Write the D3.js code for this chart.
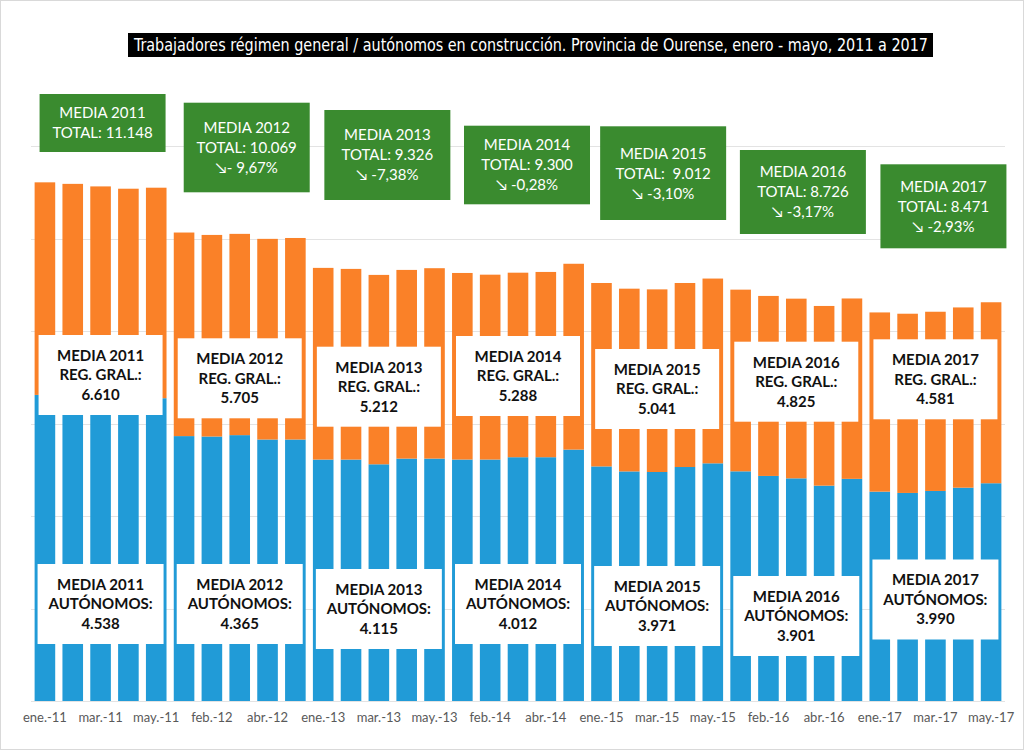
<!DOCTYPE html>
<html>
<head>
<meta charset="utf-8">
<script src="https://cdn.jsdelivr.net/npm/d3@7"></script>
<style>
  body { margin: 0; background: #fff; }
  svg { display: block; }
</style>
</head>
<body>
<svg id="chart" width="1024" height="750"></svg>
<script>
// datos: trabajadores por mes, enero - mayo de cada año
const years = [2011, 2012, 2013, 2014, 2015, 2016, 2017];
const months = ['ene.', 'feb.', 'mar.', 'abr.', 'may.'];

const regGeneral = [
  6623, 6630, 6640, 6605, 6552,
  5732, 5723, 5753, 5658, 5658,
  5224, 5224, 5122, 5245, 5245,
  5225, 5225, 5275, 5275, 5440,
  5076, 4968, 4955, 5063, 5143,
  4970, 4870, 4818, 4660, 4807,
  4530, 4502, 4545, 4616, 4712
];
const autonomos = [
  4600, 4560, 4495, 4480, 4555,
  4405, 4362, 4355, 4342, 4361,
  4148, 4126, 4098, 4083, 4120,
  4037, 4000, 3993, 4009, 4021,
  3969, 3954, 3952, 3982, 3998,
  3931, 3895, 3888, 3888, 3903,
  3878, 3878, 3878, 3900, 3916
];

// textos de las medias (tal como aparecen)
const mediaTotal = ['11.148', '10.069', '9.326', '9.300', ' 9.012', '8.726', '8.471'];
const variacion = [null, '\u2198- 9,67%', '\u2198 -7,38%', '\u2198 -0,28%', '\u2198 -3,10%', '\u2198 -3,17%', '\u2198 -2,93%'];
const mediaReg = ['6.610', '5.705', '5.212', '5.288', '5.041', '4.825', '4.581'];
const mediaAut = ['4.538', '4.365', '4.115', '4.012', '3.971', '3.901', '3.990'];

const categories = years.flatMap(y => months.map(m => m + '-' + String(y).slice(2)));
const rows = categories.map((c, i) => ({ cat: c, reg: regGeneral[i], aut: autonomos[i] }));

// colocacion de los cuadros de texto
const greenBoxes = [[94, 152], [102.7, 192.3], [110, 200], [125.7, 204.3], [126.3, 220], [150, 234], [164.3, 248.3]];
const greenDx = [2, 7, 8.5, 9, 6, 6.6, 8];
const regTops = [335, 338.3, 346.7, 336, 349, 341.7, 339.3];
const autTops = [564, 564, 569, 564, 566, 576, 559.5];

const blue = '#219bd7', orange = '#fa8128', green = '#3a8b2f';

const svg = d3.select('#chart');

svg.append('rect')
  .attr('x', 0.5).attr('y', 0.5).attr('width', 1023).attr('height', 749)
  .attr('fill', '#fff').attr('stroke', '#d9d9d9');

const x = d3.scaleBand()
  .domain(categories)
  .range([31, 1005])
  .paddingInner(0.26)
  .paddingOuter(0.13);

const y = d3.scaleLinear()
  .domain([0, 14000])
  .range([701, 54]);

// rejilla
svg.append('g')
  .selectAll('line')
  .data(d3.range(0, 12001, 2000))
  .join('line')
  .attr('x1', 31).attr('x2', 1005)
  .attr('y1', d => Math.round(y(d)) + 0.5)
  .attr('y2', d => Math.round(y(d)) + 0.5)
  .attr('stroke', '#e3e3e3');

const stack = d3.stack().keys(['reg', 'aut'])(rows);
const colors = { reg: blue, aut: orange };

svg.append('g')
  .selectAll('g')
  .data(stack)
  .join('g')
  .attr('fill', d => colors[d.key])
  .selectAll('rect')
  .data(d => d)
  .join('rect')
  .attr('x', d => x(d.data.cat))
  .attr('width', x.bandwidth())
  .attr('y', d => y(d[1]))
  .attr('height', d => y(d[0]) - y(d[1]));

// eje x: una etiqueta cada dos meses
const xAxis = d3.axisBottom(x)
  .tickValues(categories.filter((c, i) => i % 2 === 0))
  .tickSize(0)
  .tickPadding(12);

const gx = svg.append('g')
  .attr('transform', 'translate(0,701)')
  .call(xAxis);
gx.select('.domain').remove();
gx.selectAll('text')
  .attr('fill', '#595959')
  .style('font-family', 'Lato, "Open Sans", sans-serif')
  .style('font-size', '13px');

// titulo
svg.append('rect')
  .attr('x', 128).attr('y', 33).attr('width', 805).attr('height', 24)
  .attr('fill', '#000');
svg.append('text')
  .attr('x', 134).attr('y', 51)
  .attr('textLength', 794)
  .attr('lengthAdjust', 'spacingAndGlyphs')
  .attr('fill', '#fff')
  .style('font-family', '"Liberation Sans Narrow", "DejaVu Sans Condensed", sans-serif')
  .style('font-size', '17px')
  .text('Trabajadores régimen general / autónomos en construcción. Provincia de Ourense, enero - mayo, 2011 a 2017');

function midBar(k) {
  return x(categories[k * 5 + 2]) + x.bandwidth() / 2;
}

function box(g, cx, top, h, w, fill, lines, color, weight, lineH) {
  g.append('rect')
    .attr('x', cx - w / 2).attr('y', top).attr('width', w).attr('height', h)
    .attr('fill', fill);
  const cy = top + h / 2;
  const t = g.append('text')
    .attr('text-anchor', 'middle')
    .attr('fill', color)
    .style('font-family', 'Lato, "Open Sans", sans-serif')
    .style('font-size', '15px')
    .style('font-weight', weight)
    .style('white-space', 'pre');
  lines.forEach((l, i) => {
    t.append('tspan')
      .attr('x', cx)
      .attr('y', cy + (i - (lines.length - 1) / 2) * lineH)
      .attr('dy', '0.36em')
      .text(l);
  });
}

const notes = svg.append('g');
years.forEach((yr, k) => {
  const cx = midBar(k);
  const gl = ['MEDIA ' + yr, 'TOTAL: ' + mediaTotal[k]];
  if (variacion[k]) gl.push(variacion[k]);
  const [t0, t1] = greenBoxes[k];
  box(notes, cx + greenDx[k], t0, t1 - t0, 126, green, gl, '#fff', 400, 20);
  box(notes, cx, regTops[k], 80, 124, '#fff',
      ['MEDIA ' + yr, 'REG. GRAL.:', mediaReg[k]], '#111', 700, 19.5);
  box(notes, cx, autTops[k], 80, 126, '#fff',
      ['MEDIA ' + yr, 'AUTÓNOMOS:', mediaAut[k]], '#111', 700, 19.5);
});
</script>
</body>
</html>
